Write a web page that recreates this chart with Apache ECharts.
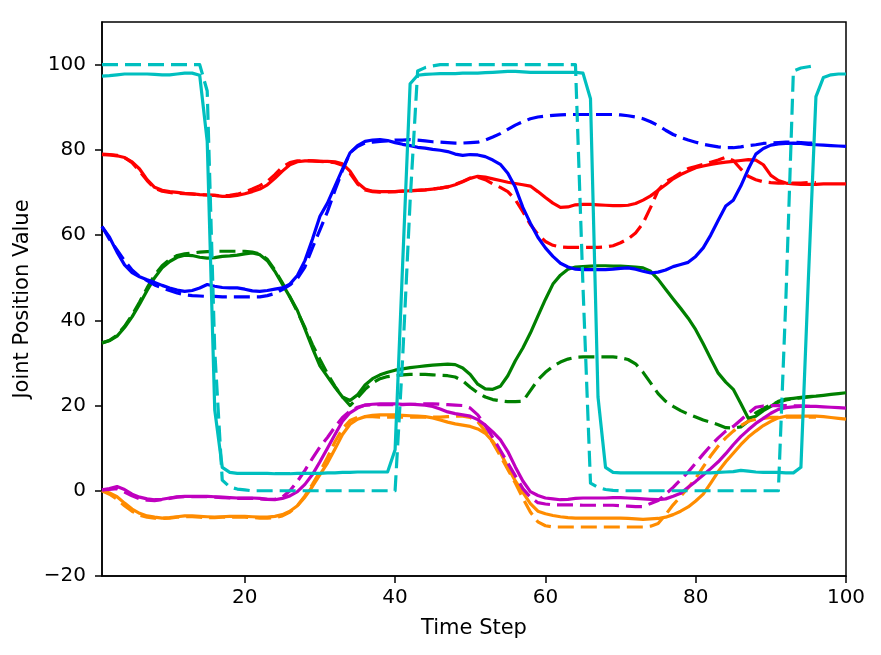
<!DOCTYPE html>
<html>
<head>
<meta charset="utf-8">
<script src="https://cdn.jsdelivr.net/npm/echarts@6/dist/echarts.min.js"></script>
<style>
html,body{margin:0;padding:0;background:#fff;}
#chart{width:881px;height:655px;}
</style>
</head>
<body>
<div id="chart"></div>
<script>
// ---- data ----
const xTicks = [20, 40, 60, 80, 100];
const yTicks = [-20, 0, 20, 40, 60, 80, 100];
const xLabel = 'Time Step';
const yLabel = 'Joint Position Value';

const redSolid = [78.9,78.8,78.6,78.2,77.2,75.5,73,71.2,70.5,70.2,
 70,69.8,69.7,69.5,69.4,69.3,69.1,69.1,69.3,69.7,
 70.2,70.8,71.8,73.3,75,76.5,77.2,77.4,77.4,77.3,
 77.3,77.2,76.7,75,72.3,70.8,70.3,70.2,70.2,70.2,
 70.3,70.4,70.5,70.6,70.8,71,71.3,71.8,72.5,73.3,
 73.8,73.6,73.2,72.8,72.4,72.1,71.8,71.5,70.2,68.8,
 67.5,66.5,66.6,67.1,67.2,67.2,67.1,67,66.9,66.9,
 67,67.4,68.2,69.2,70.5,71.8,73.2,74.2,75,75.8,
 76.2,76.6,76.9,77.1,77.3,77.5,77.7,77.6,76.5,74,
 72.8,72.2,72,71.9,71.9,71.9,72,72,72,72];
const redDashed = [79,78.9,78.7,78.2,77,75,72.8,71,70.3,70,
 69.8,69.7,69.6,69.5,69.4,69.3,69.2,69.3,69.6,70.1,
 70.8,71.6,72.6,74.2,76,77,77.4,77.5,77.4,77.3,
 77.2,77,76.4,74.5,72,70.6,70.2,70.1,70.1,70.2,
 70.3,70.4,70.5,70.6,70.8,71,71.3,71.9,72.6,73.4,
 73.6,73,72,71.2,70.2,68.3,65.5,62.5,60.2,58.5,
 57.6,57.2,57.1,57.1,57.1,57.1,57.1,57.2,57.5,58.2,
 59.1,60.5,62.8,66.5,70.5,72.5,73.5,74.6,75.6,76.1,
 76.6,77.1,77.6,78.3,77.5,75.5,73.8,73,72.5,72.3,
 72.2,72.2,72.2,72.2,72.3,72.3];

const blueSolid = [62,59.5,56,53,51.2,50.2,49.5,48.9,48.2,47.6,
 47.1,46.8,47,47.6,48.4,48,47.7,47.6,47.6,47.3,
 46.9,46.8,47,47.3,47.6,48.5,50.5,54,59,64.4,
 67.5,71.5,75.5,79.3,81,82,82.3,82.4,82.2,81.7,
 81.3,81,80.6,80.4,80.1,79.9,79.6,79,78.7,78.9,
 78.8,78.4,77.6,76.6,74.5,71.2,66.5,62.8,59.5,57,
 55,53.4,52.5,52,51.9,51.9,51.9,51.9,52,52.2,
 52.3,52,51.5,51.1,51.3,51.8,52.6,53.1,53.6,55,
 57,60,63.5,66.8,68.2,71.5,75.5,79,80.3,81.1,
 81.4,81.5,81.6,81.5,81.3,81.2,81.1,81,80.9,80.8];
const blueDashed = [62,59,56.5,54,51.8,50.3,49.3,48.3,47.6,47,
 46.4,46,45.8,45.7,45.6,45.6,45.5,45.5,45.5,45.5,
 45.5,45.5,45.8,46.3,47.2,48.3,49.8,52.5,57,61.2,
 65.5,70.5,75.2,79.3,80.8,81.6,81.8,82,82.1,82.3,
 82.3,82.4,82.3,82.1,81.9,81.8,81.7,81.6,81.6,81.7,
 81.8,82.3,83,83.8,84.8,85.8,86.6,87.3,87.7,87.9,
 88.1,88.2,88.3,88.3,88.3,88.3,88.3,88.3,88.3,88.2,
 88,87.7,87.3,86.6,85.7,84.6,83.6,82.9,82.3,81.8,
 81.3,81,80.7,80.5,80.5,80.7,81,81.2,81.5,81.6,
 81.7,81.8,81.8,81.7,81.6,81.6];

const greenSolid = [34.7,35.2,36.3,38.3,40.8,43.8,47,50,52.3,53.8,
 54.8,55.3,55.2,54.8,54.6,54.7,55,55.1,55.3,55.6,
 55.8,55.4,54,51.5,48.5,45.5,42.3,38,33.5,29.3,
 26.8,24.3,22,21.2,22.5,24.8,26.3,27.2,27.8,28.3,
 28.6,28.9,29.1,29.3,29.5,29.6,29.7,29.6,28.8,27.3,
 25,23.9,23.8,24.5,27,30.5,33.5,37,41,44.9,
 48.5,50.6,52,52.5,52.6,52.7,52.8,52.8,52.7,52.7,
 52.6,52.5,52.3,51.5,49.6,47.3,45,42.8,40.5,37.8,
 34.5,31,27.6,25.5,23.8,20.5,17,17.5,18.8,19.8,
 21,21.5,21.7,21.9,22.1,22.2,22.4,22.6,22.8,23];
const greenDashed = [34.7,35.3,36.5,38.6,41.2,44.3,47.6,50.6,52.8,54.3,
 55.2,55.6,55.8,56,56.1,56.2,56.2,56.2,56.2,56.2,
 56,55.6,54.3,51.8,48.8,45.5,42,38.3,34.3,30.8,
 27.5,24.5,22,20,21.8,23.8,25.3,26.3,26.8,27,
 27.2,27.3,27.3,27.3,27.2,27.1,27,26.7,25.8,24.3,
 23,22,21.4,21.1,20.9,20.9,21,23.5,26,27.8,
 29.2,30.2,30.9,31.3,31.4,31.4,31.4,31.4,31.4,31.2,
 30.8,29.8,27.8,25.3,22.8,21,19.8,18.8,18,17.3,
 16.6,16.1,15.5,14.8,14.7,15,16.3,18.3,19.3,20.2,
 20.8,21.3,21.6,21.8,22,22.2];

const cyanSolid = [97.3,97.4,97.6,97.8,97.8,97.8,97.8,97.7,97.6,97.6,
 97.8,98,98,97.5,82,19,5.5,4.3,4.1,4.1,
 4.1,4.1,4.1,4,4,4,4.1,4.1,4.1,4.1,
 4.2,4.2,4.3,4.3,4.4,4.4,4.4,4.4,4.4,9.6,
 53,95.5,97.5,97.7,97.8,97.9,97.9,97.9,98,98,
 98,98.1,98.2,98.3,98.4,98.4,98.3,98.2,98.2,98.2,
 98.2,98.2,98.2,98.2,98,92,22,5.5,4.3,4.2,
 4.2,4.2,4.2,4.2,4.2,4.2,4.2,4.2,4.2,4.2,
 4.2,4.2,4.3,4.4,4.5,4.8,4.6,4.4,4.3,4.3,
 4.3,4.2,4.2,5.5,50,92.5,97,97.6,97.8,97.8];
const cyanDashed = [100,100,100,100,100,100,100,100,100,100,
 100,100,100,100,93.8,33,2.5,0.9,0.4,0.2,
 0,0,0,0,0,0,0,0,0,0,
 0,0,0,0,0,0,0,0,0,0,
 31,68,98.5,99.3,99.7,100,100,100,100,100,
 100,100,100,100,100,100,100,100,100,100,
 100,100,100,100,48,1.8,0.8,0.3,0.1,0,
 0,0,0,0,0,0,0,0,0,0,
 0,0,0,0,0,0,0,0,0,0,
 0,45,98.5,99.2,99.5,99.8];

const magentaSolid = [0.2,0.5,1,0.3,-0.8,-1.5,-1.9,-2.1,-2,-1.7,
 -1.4,-1.3,-1.3,-1.3,-1.3,-1.4,-1.5,-1.6,-1.7,-1.7,
 -1.7,-1.8,-2,-2.1,-1.8,-1.2,-0.2,1.5,3.8,6.8,
 10,13.2,16.3,18.3,19.4,20.1,20.3,20.4,20.4,20.4,
 20.3,20.3,20.2,20.1,19.8,19.2,18.5,18.1,17.8,17.5,
 16.7,15.4,13.8,12,9.2,5.6,2.3,-0.2,-1.1,-1.7,
 -1.9,-2.1,-2,-1.8,-1.7,-1.7,-1.7,-1.7,-1.6,-1.6,
 -1.7,-1.8,-1.9,-2,-2.1,-1.9,-1.3,-0.6,0.8,2.2,
 3.7,5.2,6.8,8.7,10.8,12.7,14.3,15.8,17,18.2,
 19.1,19.5,19.7,19.8,19.8,19.8,19.7,19.6,19.5,19.4];
const magentaDashed = [0.2,0.3,0.5,-0.3,-1.2,-1.9,-2.2,-2.3,-2.1,-1.8,
 -1.5,-1.4,-1.4,-1.4,-1.4,-1.5,-1.6,-1.7,-1.8,-1.8,
 -1.8,-1.9,-2,-2,-1.5,0,2.2,4.8,7.6,10.3,
 12.5,15,17.2,18.7,19.6,20.1,20.2,20.2,20.2,20.2,
 20.2,20.3,20.3,20.4,20.4,20.3,20.2,20.1,20,19.4,
 17.8,15.3,12.5,9.5,6.5,3.5,0.5,-1.5,-2.8,-3.1,
 -3.3,-3.3,-3.3,-3.3,-3.4,-3.4,-3.4,-3.4,-3.4,-3.5,
 -3.6,-3.7,-3.7,-3,-2.3,-0.8,0.8,2.6,4.4,6.5,
 8.6,10.6,12.4,14,15.1,16.6,18.2,19.6,19.9,20,
 20,20,19.9,19.9,19.8,19.8];

const orangeSolid = [0.2,-0.5,-1.4,-2.9,-4.3,-5.3,-5.9,-6.2,-6.4,-6.3,
 -6.1,-5.9,-5.9,-6,-6.1,-6.2,-6.1,-6,-6,-6,
 -6.1,-6.2,-6.2,-6,-5.6,-4.8,-3.5,-1.5,1,3.8,
 6.5,9.8,13.2,15.6,16.8,17.4,17.7,17.8,17.8,17.8,
 17.7,17.6,17.5,17.4,17.1,16.6,16.1,15.7,15.4,15.1,
 14.5,13.5,11.6,9,5.5,2.3,-0.4,-3,-4.8,-5.4,
 -5.8,-6.1,-6.3,-6.4,-6.4,-6.4,-6.4,-6.4,-6.4,-6.4,
 -6.5,-6.6,-6.7,-6.6,-6.5,-6.2,-5.6,-4.8,-3.8,-2.4,
 -0.8,1.8,4.5,6.8,8.8,10.8,12.6,14,15.3,16.3,
 17.1,17.5,17.5,17.5,17.5,17.5,17.4,17.2,17,16.8];
const orangeDashed = [0,-0.8,-2,-3.5,-4.8,-5.7,-6.2,-6.4,-6.5,-6.4,
 -6.2,-6.1,-6.1,-6.2,-6.3,-6.3,-6.2,-6.2,-6.2,-6.2,
 -6.3,-6.4,-6.4,-6.3,-5.9,-5,-3.5,-1.2,1.5,4.5,
 7.8,11.5,14.5,16.5,17.2,17.4,17.4,17.3,17.3,17.3,
 17.3,17.3,17.3,17.3,17.3,17.3,17.4,17.5,17.5,17.2,
 16.2,14,11.3,8.2,5,1.8,-1.7,-5,-7.3,-8.2,
 -8.5,-8.5,-8.5,-8.5,-8.5,-8.5,-8.5,-8.5,-8.5,-8.5,
 -8.5,-8.5,-8.5,-8.3,-7.7,-5.6,-3.3,-1.3,0.7,2.9,
 5.6,8.2,10.5,12.4,14,15.3,16.3,16.8,17,17.2,
 17.2,17.3,17.3,17.3,17.3,17.3];

// ---- chart ----
const FONT = 'DejaVu Sans';
const LW = 3.2;
const DASH = [16, 7];

function toPairs(values) {
  // time steps start at 1
  return values.map((v, i) => [i + 1, v]);
}
function lineSeries(values, color, dashed) {
  return {
    type: 'line',
    data: toPairs(values),
    showSymbol: false,
    symbol: 'none',
    smooth: false,
    lineStyle: { color: color, width: LW, type: dashed ? DASH : 'solid', cap: 'butt', join: 'round' },
    itemStyle: { color: color },
    emphasis: { disabled: true },
    animation: false
  };
}

const seriesDefs = [
  [redSolid, '#ff0000', false], [redDashed, '#ff0000', true],
  [greenSolid, '#008000', false], [greenDashed, '#008000', true],
  [blueSolid, '#0000ff', false], [blueDashed, '#0000ff', true],
  [orangeSolid, '#ff8c00', false], [orangeDashed, '#ff8c00', true],
  [magentaSolid, '#bf00bf', false], [magentaDashed, '#bf00bf', true],
  [cyanSolid, '#00bfbf', false], [cyanDashed, '#00bfbf', true]
];

const chart = echarts.init(document.getElementById('chart'), null, { renderer: 'canvas' });
chart.setOption({
  backgroundColor: '#ffffff',
  animation: false,
  grid: {
    left: 102, right: 35, top: 22, bottom: 79,
    show: true, borderColor: '#000000', borderWidth: 1.5, backgroundColor: 'transparent',
    containLabel: false
  },
  xAxis: {
    type: 'value', min: 1, max: 100,
    name: xLabel, nameLocation: 'middle', nameGap: 42,
    nameTextStyle: { fontFamily: FONT, fontSize: 21, color: '#000' },
    axisLine: { show: true, onZero: false, lineStyle: { color: '#000', width: 1.5 } },
    axisTick: { show: true, inside: false, length: 7, lineStyle: { color: '#000', width: 1.5 }, customValues: xTicks },
    axisLabel: { show: true, margin: 12, fontFamily: FONT, fontSize: 20, color: '#000', customValues: xTicks },
    splitLine: { show: false }
  },
  yAxis: {
    type: 'value', min: -20, max: 110,
    name: yLabel, nameLocation: 'middle', nameGap: 62, nameRotate: 90,
    nameTextStyle: { fontFamily: FONT, fontSize: 21, color: '#000' },
    axisLine: { show: true, onZero: false, lineStyle: { color: '#000', width: 1.5 } },
    axisTick: { show: true, inside: false, length: 7, lineStyle: { color: '#000', width: 1.5 }, customValues: yTicks },
    axisLabel: { show: true, margin: 16, fontFamily: FONT, fontSize: 20, color: '#000', customValues: yTicks,
      formatter: v => String(v).replace('-', '\u2212') },
    splitLine: { show: false }
  },
  series: seriesDefs.map(d => lineSeries(d[0], d[1], d[2]))
});
</script>
</body>
</html>
